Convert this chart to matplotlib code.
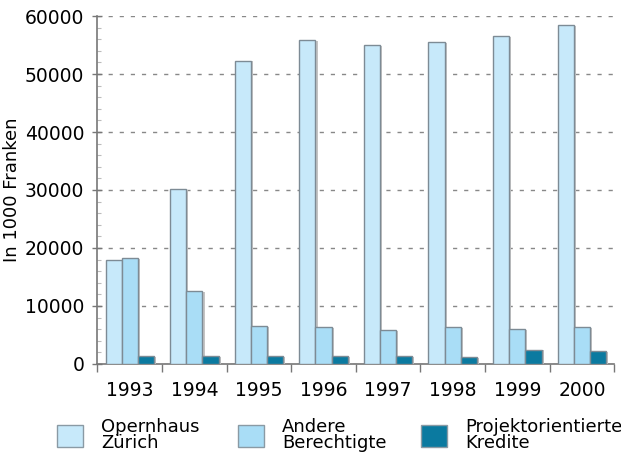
import numpy as np
import matplotlib
matplotlib.use("Agg")
import matplotlib.pyplot as plt
import matplotlib.patheffects as pe
from matplotlib.patches import Patch
from matplotlib.ticker import MultipleLocator

plt.rcParams.update({
    "font.family": "DejaVu Sans",
    "font.size": 13,
})

# Daten (in 1000 Franken)
jahre = ["1993", "1994", "1995", "1996", "1997", "1998", "1999", "2000"]
opernhaus = [17950, 30200, 52300, 55800, 55000, 55450, 56550, 58450]
andere = [18250, 12500, 6500, 6300, 5800, 6300, 6000, 6300]
projekt = [1350, 1350, 1350, 1350, 1350, 1150, 2450, 2200]

labels = ["Opernhaus\nZürich", "Andere\nBerechtigte", "Projektorientierte\nKredite"]
farben = ["#c7e9fa", "#a9ddf6", "#0b7aa0"]
kante = "#7d8b95"

fig = plt.figure(figsize=(6.21, 4.72), dpi=100, facecolor="white")
ax = fig.add_axes([0.157, 0.229, 0.832, 0.737])

x = np.arange(len(jahre))
w = 0.25
schatten = [pe.SimplePatchShadow(offset=(1.5, -0.5), shadow_rgbFace="#c4c4c4", alpha=1), pe.Normal()]
for i, (werte, farbe) in enumerate(zip([opernhaus, andere, projekt], farben)):
    ax.bar(x + (i - 1) * w, werte, width=w, color=farbe, edgecolor=kante,
           linewidth=1, zorder=3, path_effects=schatten)

ax.set_xlim(-0.5, len(jahre) - 0.5)
ax.set_ylim(0, 60000)
ax.yaxis.set_major_locator(MultipleLocator(10000))
ax.yaxis.set_minor_locator(MultipleLocator(2000))
ax.set_xticks(x)
ax.set_xticklabels(jahre, fontsize=13.5)
ax.set_xticks(np.arange(len(jahre) + 1) - 0.5, minor=True)
ax.tick_params(axis="x", which="major", length=0, pad=12)
ax.tick_params(axis="x", which="minor", length=6, width=1, color="#777777", direction="out")
ax.tick_params(axis="y", which="major", length=7, width=1, color="#777777", direction="inout",
               pad=6, labelsize=13.5)
ax.tick_params(axis="y", which="minor", length=3, width=0.8, color="#bbbbbb", direction="in")

ax.grid(axis="y", which="major", color="#888888", linestyle=(0, (3, 5)), linewidth=1, zorder=0)
for s in ["top", "right"]:
    ax.spines[s].set_visible(False)
for s in ["left", "bottom"]:
    ax.spines[s].set_color("#777777")
    ax.spines[s].set_linewidth(1.2)

ax.set_ylabel("In 1000 Franken", fontsize=13, labelpad=3)

# Legende
positionen = [0.092, 0.383, 0.678]
for lab, farbe, px in zip(labels, farben, positionen):
    fig.legend(handles=[Patch(facecolor=farbe, edgecolor="#8a9aa4", linewidth=1)],
               labels=[lab], loc="center left", bbox_to_anchor=(px, 0.078),
               frameon=False, handlelength=1.45, handleheight=1.45,
               handletextpad=1.0, borderpad=0, borderaxespad=0,
               fontsize=13, labelspacing=0)
for leg in fig.legends:
    for t in leg.get_texts():
        t.set_linespacing(0.85)

fig.savefig("out.png", dpi=100, facecolor="white")
